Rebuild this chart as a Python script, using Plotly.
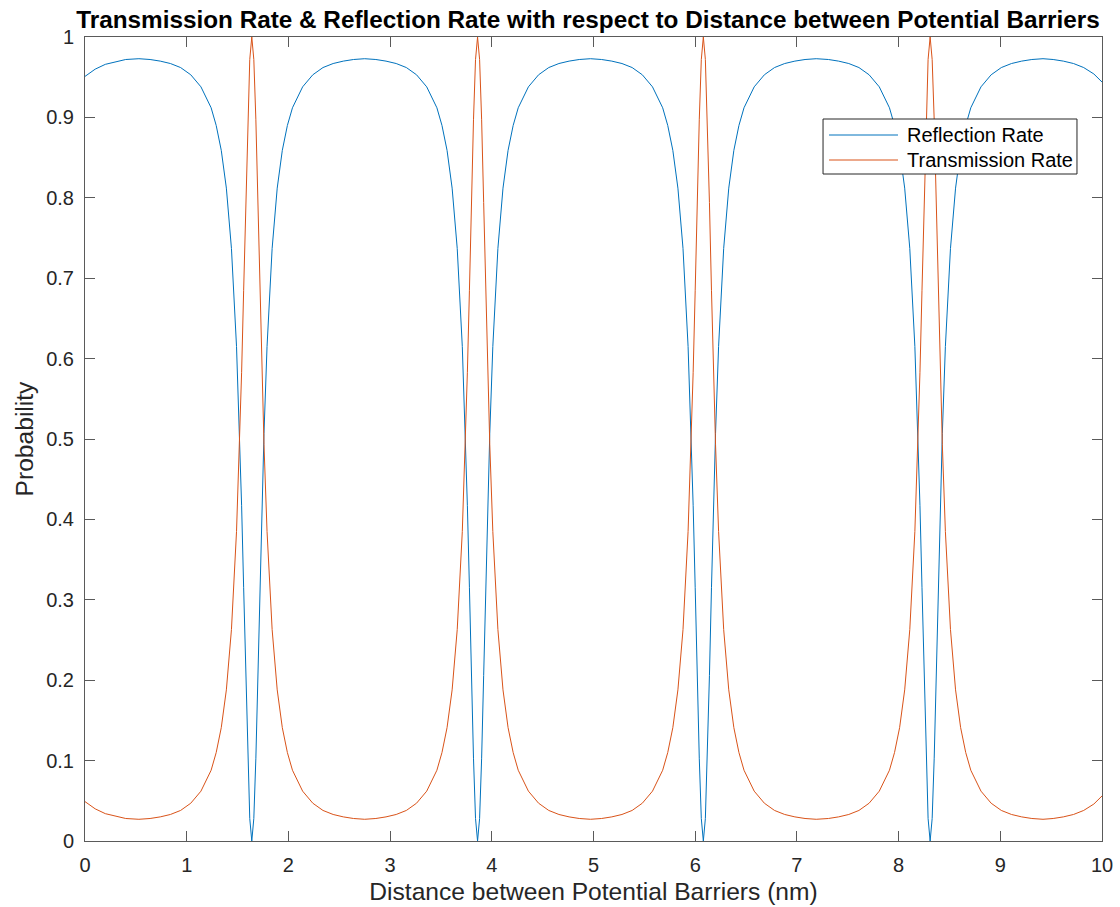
import plotly.graph_objects as go

# Distance between barriers (nm)
distance_nm = [
    0.00, 0.10, 0.20, 0.30, 0.40, 0.53,
    0.64, 0.74, 0.84, 0.94, 1.04, 1.14, 1.24, 1.29, 1.34, 1.39, 1.44, 1.49, 1.52, 1.54, 1.56, 1.58, 1.60, 1.62, 1.64,
    1.66, 1.68, 1.70, 1.72, 1.74, 1.76, 1.79, 1.84, 1.89, 1.94, 1.99, 2.04, 2.14, 2.24, 2.34, 2.44, 2.54, 2.64, 2.75,
    2.86, 2.96, 3.06, 3.16, 3.26, 3.36, 3.46, 3.51, 3.56, 3.61, 3.66, 3.71, 3.74, 3.76, 3.78, 3.80, 3.82, 3.84, 3.86,
    3.88, 3.90, 3.92, 3.94, 3.96, 3.98, 4.01, 4.06, 4.11, 4.16, 4.21, 4.26, 4.36, 4.46, 4.56, 4.66, 4.76, 4.86, 4.97,
    5.08, 5.18, 5.28, 5.38, 5.48, 5.58, 5.68, 5.73, 5.78, 5.83, 5.88, 5.93, 5.96, 5.98, 6.00, 6.02, 6.04, 6.06, 6.08,
    6.10, 6.12, 6.14, 6.16, 6.18, 6.20, 6.23, 6.28, 6.33, 6.38, 6.43, 6.48, 6.58, 6.68, 6.78, 6.88, 6.98, 7.08, 7.19,
    7.31, 7.41, 7.51, 7.61, 7.71, 7.81, 7.91, 7.96, 8.01, 8.06, 8.11, 8.16, 8.19, 8.21, 8.23, 8.25, 8.27, 8.29, 8.31,
    8.33, 8.35, 8.37, 8.39, 8.41, 8.43, 8.46, 8.51, 8.56, 8.61, 8.66, 8.71, 8.81, 8.91, 9.01, 9.11, 9.21, 9.31, 9.42,
    9.52, 9.62, 9.72, 9.82, 9.92, 10.00,
]

reflection_rate = [
    0.951, 0.960, 0.966, 0.969, 0.972, 0.973,
    0.972, 0.970, 0.967, 0.962, 0.953, 0.938, 0.912, 0.890, 0.859, 0.812, 0.737, 0.615, 0.507, 0.417, 0.315, 0.206, 0.103, 0.028, 0.000,
    0.028, 0.103, 0.206, 0.315, 0.417, 0.507, 0.615, 0.737, 0.812, 0.859, 0.890, 0.912, 0.938, 0.953, 0.962, 0.967, 0.970, 0.972, 0.973,
    0.972, 0.970, 0.967, 0.962, 0.953, 0.938, 0.912, 0.890, 0.859, 0.812, 0.737, 0.615, 0.507, 0.417, 0.315, 0.206, 0.103, 0.028, 0.000,
    0.028, 0.103, 0.206, 0.315, 0.417, 0.507, 0.615, 0.737, 0.812, 0.859, 0.890, 0.912, 0.938, 0.953, 0.962, 0.967, 0.970, 0.972, 0.973,
    0.972, 0.970, 0.967, 0.962, 0.953, 0.938, 0.912, 0.890, 0.859, 0.812, 0.737, 0.615, 0.507, 0.417, 0.315, 0.206, 0.103, 0.028, 0.000,
    0.028, 0.103, 0.206, 0.315, 0.417, 0.507, 0.615, 0.737, 0.812, 0.859, 0.890, 0.912, 0.938, 0.953, 0.962, 0.967, 0.970, 0.972, 0.973,
    0.972, 0.970, 0.967, 0.962, 0.953, 0.938, 0.912, 0.890, 0.859, 0.812, 0.737, 0.615, 0.507, 0.417, 0.315, 0.206, 0.103, 0.028, 0.000,
    0.028, 0.103, 0.206, 0.315, 0.417, 0.507, 0.615, 0.737, 0.812, 0.859, 0.890, 0.912, 0.938, 0.953, 0.962, 0.967, 0.970, 0.972, 0.973,
    0.972, 0.970, 0.967, 0.962, 0.954, 0.944,
]

transmission_rate = [
    0.049, 0.040, 0.034, 0.031, 0.028, 0.027,
    0.028, 0.030, 0.033, 0.038, 0.047, 0.062, 0.088, 0.110, 0.141, 0.188, 0.263, 0.385, 0.493, 0.583, 0.685, 0.794, 0.897, 0.972, 1.000,
    0.972, 0.897, 0.794, 0.685, 0.583, 0.493, 0.385, 0.263, 0.188, 0.141, 0.110, 0.088, 0.062, 0.047, 0.038, 0.033, 0.030, 0.028, 0.027,
    0.028, 0.030, 0.033, 0.038, 0.047, 0.062, 0.088, 0.110, 0.141, 0.188, 0.263, 0.385, 0.493, 0.583, 0.685, 0.794, 0.897, 0.972, 1.000,
    0.972, 0.897, 0.794, 0.685, 0.583, 0.493, 0.385, 0.263, 0.188, 0.141, 0.110, 0.088, 0.062, 0.047, 0.038, 0.033, 0.030, 0.028, 0.027,
    0.028, 0.030, 0.033, 0.038, 0.047, 0.062, 0.088, 0.110, 0.141, 0.188, 0.263, 0.385, 0.493, 0.583, 0.685, 0.794, 0.897, 0.972, 1.000,
    0.972, 0.897, 0.794, 0.685, 0.583, 0.493, 0.385, 0.263, 0.188, 0.141, 0.110, 0.088, 0.062, 0.047, 0.038, 0.033, 0.030, 0.028, 0.027,
    0.028, 0.030, 0.033, 0.038, 0.047, 0.062, 0.088, 0.110, 0.141, 0.188, 0.263, 0.385, 0.493, 0.583, 0.685, 0.794, 0.897, 0.972, 1.000,
    0.972, 0.897, 0.794, 0.685, 0.583, 0.493, 0.385, 0.263, 0.188, 0.141, 0.110, 0.088, 0.062, 0.047, 0.038, 0.033, 0.030, 0.028, 0.027,
    0.028, 0.030, 0.033, 0.038, 0.046, 0.056,
]

series_names = ["Reflection Rate", "Transmission Rate"]
series_colors = ["#0072BD", "#D95319"]

x_ticks = [0, 1, 2, 3, 4, 5, 6, 7, 8, 9, 10]
y_ticks = [0, 0.1, 0.2, 0.3, 0.4, 0.5, 0.6, 0.7, 0.8, 0.9, 1]
y_tick_labels = ["0", "0.1", "0.2", "0.3", "0.4", "0.5", "0.6", "0.7", "0.8", "0.9", "1"]

FONT = "Liberation Sans, Arial, Helvetica, sans-serif"
AXIS_COLOR = "#262626"
LINE_COLOR = "#5a5a5a"

fig = go.Figure()
for name, values, color in zip(series_names, [reflection_rate, transmission_rate], series_colors):
    fig.add_trace(go.Scatter(
        x=distance_nm, y=values, mode="lines", name=name,
        line=dict(color=color, width=1), showlegend=False,
    ))

axis_common = dict(
    showline=True, linecolor=LINE_COLOR, linewidth=1, mirror="ticks",
    ticks="inside", ticklen=10, tickwidth=1, tickcolor=LINE_COLOR,
    showgrid=False, zeroline=False, automargin=False,
    tickfont=dict(family=FONT, size=20, color=AXIS_COLOR),
)

# MATLAB-style legend box (inside the axes, upper right)
leg_x0, leg_x1, leg_y0, leg_y1 = 0.7257, 0.9754, 0.8296, 0.8980
sample_x0, sample_x1, text_x = 0.7316, 0.7994, 0.8063
row_y = [0.8781, 0.8470]
shapes = [dict(type="rect", xref="paper", yref="paper",
               x0=leg_x0, x1=leg_x1, y0=leg_y0, y1=leg_y1,
               line=dict(color=AXIS_COLOR, width=1), fillcolor="white", layer="above")]
annotations = []
for name, color, yy in zip(series_names, series_colors, row_y):
    shapes.append(dict(type="line", xref="paper", yref="paper",
                       x0=sample_x0, x1=sample_x1, y0=yy, y1=yy,
                       line=dict(color=color, width=1), layer="above"))
    annotations.append(dict(text=name, xref="paper", yref="paper", x=text_x, y=yy,
                            xanchor="left", yanchor="middle", showarrow=False,
                            font=dict(family=FONT, size=20, color="black")))

fig.update_layout(
    width=1120, height=907,
    margin=dict(l=85, r=18, t=37, b=66, autoexpand=False),
    paper_bgcolor="white", plot_bgcolor="white",
    title=dict(
        text="<b>Transmission Rate & Reflection Rate with respect to Distance between Potential Barriers</b>",
        x=0.525, xanchor="center", xref="container",
        y=0.979, yanchor="middle", yref="container",
        font=dict(family=FONT, size=24.3, color="black"),
    ),
    xaxis=dict(
        range=[0, 10], tickvals=x_ticks, ticktext=[str(t) for t in x_ticks],
        ticklabelstandoff=6,
        title=dict(text="Distance between Potential Barriers (nm)", standoff=7,
                   font=dict(family=FONT, size=24.6, color=AXIS_COLOR)),
        **axis_common,
    ),
    yaxis=dict(
        range=[0, 1], tickvals=y_ticks, ticktext=y_tick_labels,
        ticklabelstandoff=6,
        title=dict(text="Probability", standoff=5,
                   font=dict(family=FONT, size=24.6, color=AXIS_COLOR)),
        **axis_common,
    ),
    shapes=shapes,
    annotations=annotations,
    showlegend=False,
)

fig.write_html(
    "out.html",
    config={"displayModeBar": False},
    post_script="document.body.style.margin='0';document.documentElement.style.overflow='hidden';",
)
